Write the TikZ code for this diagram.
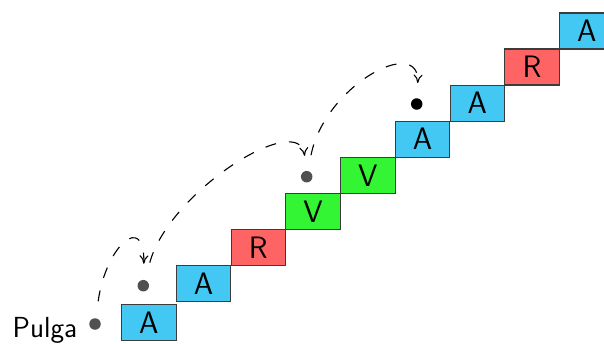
\documentclass[tikz,border=0pt]{standalone}
\usetikzlibrary{arrows.meta}
\definecolor{boxblue}{RGB}{66,200,242}
\definecolor{boxred}{RGB}{255,100,100}
\definecolor{boxgreen}{RGB}{51,245,51}
\definecolor{boxline}{RGB}{60,60,60}
\definecolor{dotgray}{RGB}{80,80,80}
\tikzset{
  stair/.style={draw=boxline, line width=1.2pt, rectangle, anchor=north west,
    minimum width=54.5pt, minimum height=36pt, inner sep=0pt,
    font=\sffamily\fontsize{31}{31}\selectfont},
  ablue/.style={stair, fill=boxblue},
  ared/.style={stair, fill=boxred},
  agreen/.style={stair, fill=boxgreen},
  flea/.style={circle, fill=#1, minimum size=11.5pt, inner sep=0pt},
  jump/.style={line width=1.1pt, dash pattern=on 11pt off 13pt,
    -{Computer Modern Rightarrow[length=8.5pt,width=9pt]}},
}
\begin{document}
\begin{tikzpicture}[x=1pt, y=-1pt]
\useasboundingbox (0,0) rectangle (604,343);
\clip (0,0) rectangle (604,343);
\node[ablue]  (b0) at (121,304)      {A};
\node[ablue]  (b1) at (175.75,265)   {A};
\node[ared]   (b2) at (230.5,228.9)  {R};
\node[agreen] (b3) at (285.25,192.8) {V};
\node[agreen] (b4) at (340,156.7)    {V};
\node[ablue]  (b5) at (394.75,120.6) {A};
\node[ablue]  (b6) at (449.5,84.5)   {A};
\node[ared]   (b7) at (504.25,48.4)  {R};
\node[ablue]  (b8) at (559,12.3)     {A};
\node[flea=dotgray] (d1) at (95,324)      {};
\node[flea=dotgray] (d2) at (143.3,285.7) {};
\node[flea=dotgray] (d3) at (306.7,176.7) {};
\node[flea=black]   (d4) at (416.7,104)   {};
\node[anchor=base east, inner sep=0pt, font=\sffamily\fontsize{29}{29}\selectfont] (lbl) at (77.5,337) {Pulga};
\draw[jump, shorten <=17pt, shorten >=16pt] (d1) .. controls +(11,-79) and +(1.7,-73.7) .. (d2);
\draw[jump, shorten <=18pt, shorten >=15pt] (d2) .. controls +(26.7,-95.7) and +(-6.7,-66.7) .. (d3);
\draw[jump, shorten <=16pt, shorten >=15pt] (d3) .. controls +(18.3,-91.7) and +(3.3,-69) .. (d4);
\end{tikzpicture}
\end{document}
